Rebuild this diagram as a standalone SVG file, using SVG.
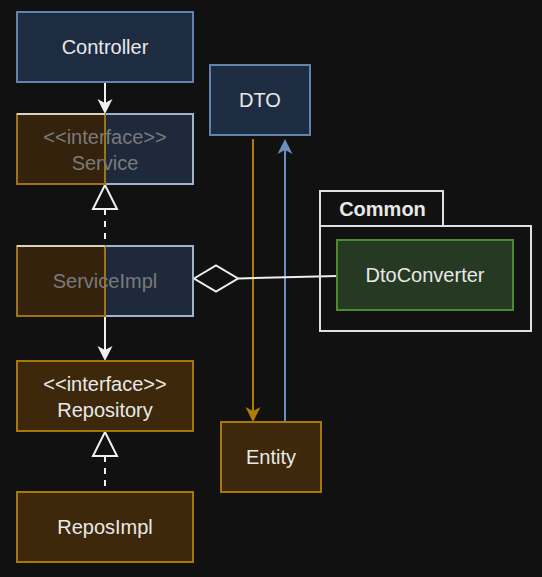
<svg xmlns="http://www.w3.org/2000/svg" width="542" height="577" viewBox="0 0 542 577">
<style>
.bg{fill:#111111}
.blue{fill:#1e2c42;stroke:#6282b0;stroke-width:2}
.brown{fill:#3e280c;stroke:#a87709;stroke-width:2}
.green{fill:#263a23;stroke:#4c8a2e;stroke-width:2}
.pkg{fill:none;stroke:#e0e0e0;stroke-width:2}
.t{font-family:"Liberation Sans",Arial,sans-serif;font-size:20px;fill:#e8e8e8;text-anchor:middle}
.dim{fill:#7a7a7a}
.b{font-weight:bold}
.w{stroke:#f0f0f0;stroke-width:2;fill:none}
.dash{stroke-dasharray:6,6}
</style>
<rect class="bg" x="0" y="0" width="542" height="577"/>
<g id="connectors">
  <line class="w" x1="105" y1="82" x2="105" y2="104"/>
  <path d="M105,114 L97.5,99 L105,103 L112.5,99 Z" fill="#f0f0f0"/>
  <line class="w dash" x1="105" y1="209" x2="105" y2="246"/>
  <path d="M105,185 L93,209 L117,209 Z" fill="#111111" stroke="#f0f0f0" stroke-width="2"/>
  <line class="w" x1="105" y1="316" x2="105" y2="350"/>
  <path d="M105,361 L97.5,346 L105,350 L112.5,346 Z" fill="#f0f0f0"/>
  <line class="w dash" x1="105" y1="456" x2="105" y2="492"/>
  <path d="M105,432 L93,456 L117,456 Z" fill="#111111" stroke="#f0f0f0" stroke-width="2"/>
  <line x1="253" y1="139" x2="253" y2="411" stroke="#b07d00" stroke-width="2"/>
  <path d="M253,422 L245.5,407 L253,411 L260.5,407 Z" fill="#b07d00"/>
  <line x1="285" y1="422" x2="285" y2="150" stroke="#6c8ebf" stroke-width="2"/>
  <path d="M285,139 L277.5,154 L285,150 L292.5,154 Z" fill="#6c8ebf"/>
  <line class="w" x1="238" y1="278.5" x2="337" y2="276"/>
  <path d="M194,278.5 L216,265.5 L238,278.5 L216,291.5 Z" fill="#111111" stroke="#f0f0f0" stroke-width="2"/>
</g>
<g id="controller">
  <rect class="blue" x="17" y="12" width="176" height="70"/>
  <text class="t" x="105" y="54">Controller</text>
</g>
<g id="service">
  <rect x="17" y="114" width="176" height="70" fill="#1e2a3b" stroke="#a3b3c8" stroke-width="2"/>
  <rect x="17" y="114" width="88" height="70" fill="#34220c" stroke="#9c7414" stroke-width="2"/>
  <line x1="17" y1="114" x2="105" y2="114" stroke="#d8d2c0" stroke-width="2"/>
  <text class="t dim" x="105" y="144">&lt;&lt;interface&gt;&gt;</text>
  <text class="t dim" x="105" y="170">Service</text>
</g>
<g id="serviceimpl">
  <rect x="17" y="246" width="176" height="70" fill="#1e2a3b" stroke="#a3b3c8" stroke-width="2"/>
  <rect x="17" y="246" width="88" height="70" fill="#34220c" stroke="#9c7414" stroke-width="2"/>
  <line x1="17" y1="246" x2="105" y2="246" stroke="#d8d2c0" stroke-width="2"/>
  <text class="t dim" x="105" y="288">ServiceImpl</text>
</g>
<g id="repository">
  <rect class="brown" x="17" y="361" width="176" height="70"/>
  <text class="t" x="105" y="391">&lt;&lt;interface&gt;&gt;</text>
  <text class="t" x="105" y="417">Repository</text>
</g>
<g id="reposimpl">
  <rect class="brown" x="17" y="492" width="176" height="70"/>
  <text class="t" x="105" y="534">ReposImpl</text>
</g>
<g id="dto">
  <rect class="blue" x="210" y="65" width="100" height="70"/>
  <text class="t" x="260" y="107">DTO</text>
</g>
<g id="entity">
  <rect class="brown" x="221" y="422" width="100" height="70"/>
  <text class="t" x="271" y="464">Entity</text>
</g>
<g id="common">
  <rect class="pkg" x="320" y="191" width="123" height="35"/>
  <rect class="pkg" x="320" y="226" width="211" height="105"/>
  <text class="t b" x="382.5" y="216">Common</text>
</g>
<g id="dtoconverter">
  <rect class="green" x="337" y="240" width="176" height="70"/>
  <text class="t" x="425" y="282">DtoConverter</text>
</g>
</svg>
